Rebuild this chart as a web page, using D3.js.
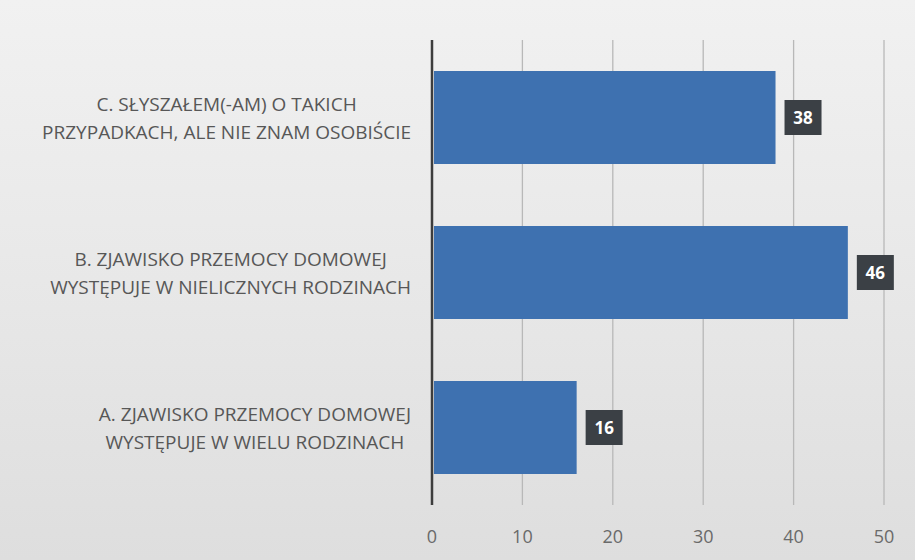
<!DOCTYPE html>
<html>
<head>
<meta charset="utf-8">
<script src="https://cdn.jsdelivr.net/npm/d3@7"></script>
<style>
  html, body { margin: 0; padding: 0; background: #e8e8e8; }
  svg { display: block; }
</style>
</head>
<body>
<div id="chart"></div>
<script>
// data, top to bottom as drawn
const categories = ["C", "B", "A"]
const labelLines = [
    ["C. SŁYSZAŁEM(-AM) O TAKICH", "PRZYPADKACH, ALE NIE ZNAM OSOBIŚCIE"],
    ["B. ZJAWISKO PRZEMOCY DOMOWEJ", "WYSTĘPUJE W NIELICZNYCH RODZINACH"],
    ["A. ZJAWISKO PRZEMOCY DOMOWEJ", "WYSTĘPUJE W WIELU RODZINACH"]
]
const values = [38, 46, 16]
const tickValues = [0, 10, 20, 30, 40, 50]

const width = 915
const height = 560

const svg = d3.select("#chart").append("svg")
    .attr("width", width)
    .attr("height", height)

// scanned-paper look
const defs = svg.append("defs")
const grad = defs.append("linearGradient")
    .attr("id", "paper")
    .attr("x1", 0).attr("y1", 0).attr("x2", 0).attr("y2", 1)
grad.append("stop").attr("offset", "0%").attr("stop-color", "#f1f1f1")
grad.append("stop").attr("offset", "45%").attr("stop-color", "#e9e9e9")
grad.append("stop").attr("offset", "100%").attr("stop-color", "#dedede")

svg.append("rect")
    .attr("width", width).attr("height", height)
    .attr("fill", "url(#paper)")

const x = d3.scaleLinear().domain([0, 50]).range([432, 884])
const y = d3.scaleBand().domain(categories).range([40, 505]).paddingInner(0.4).paddingOuter(0.2)

// gridlines
svg.append("g")
    .selectAll("line")
    .data(tickValues.slice(1))
    .join("line")
    .attr("x1", d => x(d)).attr("x2", d => x(d))
    .attr("y1", 40).attr("y2", 505)
    .attr("stroke", "#b8b8b8")
    .attr("stroke-width", 1.3)

// bars
svg.append("g")
    .selectAll("rect")
    .data(values)
    .join("rect")
    .attr("x", x(0) + 2)
    .attr("y", (d, i) => y(categories[i]))
    .attr("width", d => x(d) - x(0) - 2)
    .attr("height", y.bandwidth())
    .attr("fill", "#3e71b0")

// zero axis line
svg.append("line")
    .attr("x1", x(0)).attr("x2", x(0))
    .attr("y1", 40).attr("y2", 505)
    .attr("stroke", "#3d3d3d")
    .attr("stroke-width", 2.5)

// x tick labels
svg.append("g")
    .selectAll("text")
    .data(tickValues)
    .join("text")
    .attr("x", d => x(d))
    .attr("y", 543)
    .attr("text-anchor", "middle")
    .attr("font-family", "Open Sans, sans-serif")
    .attr("font-size", 18)
    .attr("fill", "#6a6a6a")
    .text(d => d)

// value labels in dark boxes
const vl = svg.append("g")
    .selectAll("g")
    .data(values)
    .join("g")
    .attr("transform", (d, i) => `translate(${x(d) + 9},${y(categories[i]) + y.bandwidth() / 2})`)
vl.append("rect")
    .attr("x", 0).attr("y", -17.5)
    .attr("width", 37).attr("height", 35)
    .attr("fill", "#3b4045")
vl.append("text")
    .attr("x", 18.5).attr("y", 6)
    .attr("text-anchor", "middle")
    .attr("font-family", "Open Sans, sans-serif")
    .attr("font-weight", "bold")
    .attr("font-size", 17)
    .attr("fill", "#ffffff")
    .text(d => d)

// category labels: lines centred within a block that is right-aligned
const labelRight = 411
const lg = svg.append("g")
    .selectAll("g")
    .data(labelLines)
    .join("g")
    .attr("transform", (d, i) => `translate(0,${y(categories[i]) + y.bandwidth() / 2})`)

lg.each(function (lines) {
    const g = d3.select(this)
    const texts = lines.map((t, k) => g.append("text")
        .attr("y", (k - 0.5) * 28 + 7)
        .attr("text-anchor", "middle")
        .attr("font-family", "Open Sans, sans-serif")
        .attr("font-size", 19)
        .attr("fill", "#575757")
        .text(t))
    const widths = texts.map(t => t.node().getComputedTextLength())
    const sx = 1.0
    const maxW = d3.max(widths) * sx
    const cx = labelRight - maxW / 2
    texts.forEach(t => t.attr("transform", `translate(${cx},0) scale(${sx},1)`))
})
</script>
</body>
</html>
